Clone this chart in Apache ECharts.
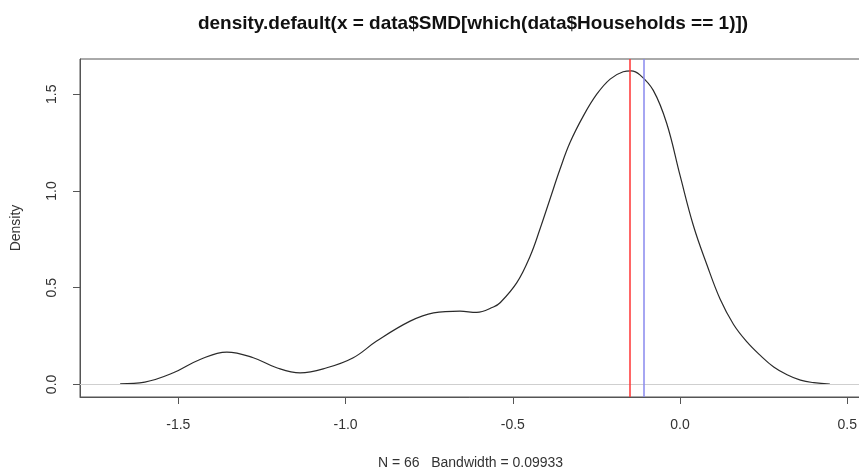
<!DOCTYPE html>
<html>
<head>
<meta charset="utf-8">
<script src="https://cdn.jsdelivr.net/npm/echarts@6/dist/echarts.min.js"></script>
<style>
  html, body { margin: 0; padding: 0; background: #fff; }
  #chart { width: 859px; height: 470px; }
</style>
</head>
<body>
<div id="chart"></div>
<script>
// density estimate
const xs = [-1.674, -1.60, -1.515, -1.435, -1.355, -1.276, -1.206, -1.136, -1.056, -0.977,
  -0.907, -0.807, -0.737, -0.658, -0.608, -0.558, -0.538, -0.488, -0.448, -0.419,
  -0.389, -0.359, -0.329, -0.289, -0.249, -0.209, -0.170, -0.146, -0.12, -0.08,
  -0.04, 0.00, 0.04, 0.08, 0.12, 0.16, 0.20, 0.24, 0.28, 0.32, 0.36, 0.40, 0.448];
const density = [0.003, 0.012, 0.060, 0.129, 0.167, 0.138, 0.086, 0.060, 0.086, 0.138,
  0.224, 0.327, 0.370, 0.379, 0.372, 0.400, 0.422, 0.526, 0.664, 0.802,
  0.957, 1.112, 1.250, 1.388, 1.500, 1.578, 1.616, 1.621, 1.60, 1.52,
  1.35, 1.08, 0.82, 0.62, 0.44, 0.31, 0.22, 0.15, 0.09, 0.05, 0.022, 0.009, 0.002];
const xTicks = [-1.5, -1.0, -0.5, 0.0, 0.5];
const yTicks = [0.0, 0.5, 1.0, 1.5];
const redLine = -0.146;
const blueLine = -0.112;

const chart = echarts.init(document.getElementById('chart'));
const font = 'Liberation Sans, Arial, sans-serif';

chart.setOption({
  animation: false,
  title: {
    text: 'density.default(x = data$SMD[which(data$Households == 1)])',
    left: 468, top: 9, textAlign: 'center',
    textStyle: { fontFamily: font, fontSize: 19, fontWeight: 'bold', color: '#111' }
  },
  grid: { left: 80, top: 59, width: 781, height: 338, show: true, borderColor: '#555', borderWidth: 1,
    outerBoundsMode: 'none', containLabel: false },
  xAxis: {
    type: 'value', min: -1.794, max: 0.541,
    name: 'N = 66   Bandwidth = 0.09933', nameLocation: 'middle', nameGap: 59,
    nameTextStyle: { fontFamily: font, fontSize: 14, color: '#333' },
    axisLine: { show: true, onZero: false, lineStyle: { color: '#555' } },
    axisTick: { show: true, length: 7, customValues: xTicks, lineStyle: { color: '#555' } },
    axisLabel: { customValues: xTicks, margin: 21, fontFamily: font, fontSize: 14, color: '#333',
      formatter: v => v.toFixed(1) },
    splitLine: { show: false }
  },
  yAxis: {
    type: 'value', min: -0.065, max: 1.682,
    name: 'Density', nameLocation: 'middle', nameGap: 57, nameRotate: 90,
    nameTextStyle: { fontFamily: font, fontSize: 14, color: '#333' },
    axisLine: { show: true, onZero: false, lineStyle: { color: '#555' } },
    axisTick: { show: true, length: 7, customValues: yTicks, lineStyle: { color: '#555' } },
    axisLabel: { customValues: yTicks, rotate: 90, margin: 21, fontFamily: font, fontSize: 14, color: '#333',
      formatter: v => v.toFixed(1) },
    splitLine: { show: false }
  },
  series: [{
    type: 'line',
    data: xs.map((x, i) => [x, density[i]]),
    smooth: 0.4, showSymbol: false,
    lineStyle: { color: '#2a2a2a', width: 1.2 },
    markLine: {
      silent: true, symbol: 'none', label: { show: false },
      data: [
        { yAxis: 0, lineStyle: { color: '#cfcfcf', width: 1, type: 'solid' } },
        { xAxis: redLine, lineStyle: { color: '#ff3333', width: 1.5, type: 'solid' } },
        { xAxis: blueLine, lineStyle: { color: '#8888ee', width: 1.5, type: 'solid' } }
      ]
    }
  }]
});
</script>
</body>
</html>
